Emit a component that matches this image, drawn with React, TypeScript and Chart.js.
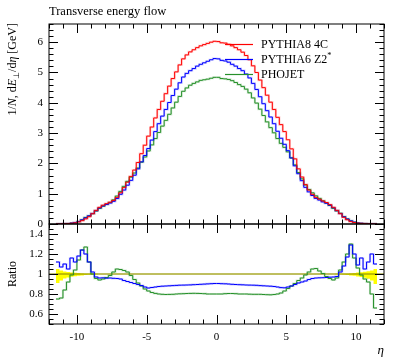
import React, { useEffect, useRef } from "react";
import { Chart, registerables } from "chart.js";

Chart.register(...registerables);

// ---------- data ----------
const BIN_LOW = -11.5;
const BIN_WIDTH = 0.25;
const X_MIN = -12;
const X_MAX = 12;
const MAIN_Y_MAX = 6.6;
const RATIO_MIN = 0.5;
const RATIO_MAX = 1.5;
const REFERENCE_RATIO = 1;

const seriesNames = ["PYTHIA8 4C", "PYTHIA6 Z2", "PHOJET"];
const seriesColors = ["#ff0000", "#0000ff", "#26902a"];
const seriesHalo = ["rgba(255,0,0,0.2)", "rgba(0,0,255,0.2)", "rgba(38,144,42,0.2)"];

const xMajorTicks = [-10, -5, 0, 5, 10];
const xTickLabels = ["-10", "-5", "0", "5", "10"];
const mainYTicks = [0, 1, 2, 3, 4, 5, 6];
const ratioYTicks = [0.6, 0.8, 1, 1.2, 1.4];
const ratioYTickLabels = ["0.6", "0.8", "1", "1.2", "1.4"];

// dE_T/deta per bin (bins of 0.25 from -11.5 to 11.5)
const pythia8 = [
  0.005, 0.007, 0.01, 0.015,
  0.025, 0.04, 0.07, 0.11,
  0.17, 0.24, 0.34, 0.45,
  0.55, 0.62, 0.67, 0.72,
  0.78, 0.88, 1.03, 1.2,
  1.38, 1.57, 1.78, 2.03,
  2.32, 2.6, 2.9, 3.2,
  3.5, 3.78, 4.05, 4.3,
  4.55, 4.8, 5.02, 5.25,
  5.45, 5.58, 5.68, 5.75,
  5.82, 5.88, 5.92, 5.96,
  6.0, 6.03, 6.02, 5.98,
  5.97, 5.93, 5.88, 5.82,
  5.75, 5.67, 5.56, 5.42,
  5.22, 5.0, 4.75, 4.5,
  4.25, 4.02, 3.78, 3.52,
  3.28, 3.05, 2.78, 2.48,
  2.15, 1.82, 1.55, 1.3,
  1.12, 0.98, 0.88, 0.82,
  0.76, 0.71, 0.64, 0.55,
  0.45, 0.34, 0.22, 0.14,
  0.08, 0.05, 0.03, 0.02,
  0.012, 0.008, 0.006, 0.004,
];

const pythia6 = [
  0.006, 0.007, 0.011, 0.016,
  0.029, 0.045, 0.083, 0.136,
  0.204, 0.269, 0.347, 0.437,
  0.528, 0.595, 0.643, 0.691,
  0.749, 0.84, 0.98, 1.12,
  1.28, 1.44, 1.61, 1.82,
  2.05, 2.26, 2.49, 2.77,
  3.05, 3.31, 3.56, 3.78,
  4.01, 4.24, 4.45, 4.66,
  4.85, 4.97, 5.06, 5.13,
  5.21, 5.27, 5.32, 5.37,
  5.42, 5.46, 5.45, 5.4,
  5.38, 5.34, 5.27, 5.21,
  5.13, 5.06, 4.95, 4.82,
  4.64, 4.44, 4.2, 3.97,
  3.74, 3.53, 3.31, 3.06,
  2.83, 2.63, 2.42, 2.18,
  1.92, 1.66, 1.43, 1.21,
  1.06, 0.94, 0.845, 0.79,
  0.73, 0.685, 0.62, 0.535,
  0.44, 0.347, 0.238, 0.164,
  0.103, 0.06, 0.033, 0.023,
  0.013, 0.009, 0.007, 0.004,
];

const phojet = [
  0.004, 0.005, 0.008, 0.014,
  0.025, 0.042, 0.08, 0.136,
  0.216, 0.269, 0.34, 0.43,
  0.517, 0.589, 0.647, 0.709,
  0.796, 0.924, 1.076, 1.242,
  1.408, 1.546, 1.682, 1.847,
  2.04, 2.21, 2.41, 2.61,
  2.82, 3.02, 3.23, 3.42,
  3.62, 3.83, 4.02, 4.21,
  4.38, 4.49, 4.58, 4.64,
  4.69, 4.74, 4.76, 4.78,
  4.81, 4.84, 4.84, 4.8,
  4.79, 4.77, 4.73, 4.67,
  4.6, 4.54, 4.45, 4.33,
  4.16, 3.99, 3.79, 3.58,
  3.37, 3.18, 3.01, 2.82,
  2.66, 2.53, 2.38, 2.18,
  1.95, 1.7, 1.49, 1.29,
  1.14, 1.03, 0.93, 0.845,
  0.764, 0.692, 0.611, 0.517,
  0.432, 0.354, 0.246, 0.168,
  0.104, 0.058, 0.032, 0.02,
  0.011, 0.007, 0.005, 0.003,
];

// ratios to PYTHIA8 4C
const ratioPythia6 = [
  1.12, 1.07, 1.1, 1.05,
  1.16, 1.12, 1.18, 1.24,
  1.2, 1.12, 1.02, 0.97,
  0.96, 0.962, 0.958, 0.96,
  0.957, 0.955, 0.95, 0.935,
  0.925, 0.915, 0.905, 0.895,
  0.885, 0.87, 0.86, 0.865,
  0.87, 0.875, 0.878, 0.88,
  0.882, 0.884, 0.886, 0.888,
  0.889, 0.89, 0.891, 0.893,
  0.895, 0.897, 0.899, 0.901,
  0.903, 0.905, 0.905, 0.903,
  0.902, 0.9, 0.897, 0.895,
  0.893, 0.892, 0.89, 0.889,
  0.888, 0.887, 0.884, 0.882,
  0.88, 0.878, 0.875, 0.87,
  0.864, 0.862, 0.87, 0.88,
  0.895, 0.91, 0.92, 0.93,
  0.945, 0.955, 0.96, 0.962,
  0.963, 0.965, 0.968, 0.97,
  0.975, 1.02, 1.08, 1.17,
  1.29, 1.2, 1.09, 1.16,
  1.05, 1.12, 1.2, 1.1,
];

const ratioPhojet = [
  0.75, 0.76, 0.84, 0.92,
  0.99, 1.04, 1.14, 1.24,
  1.27, 1.12, 1.0, 0.955,
  0.94, 0.95, 0.965, 0.985,
  1.02, 1.05, 1.045, 1.035,
  1.02, 0.985, 0.945, 0.91,
  0.88, 0.85, 0.83, 0.815,
  0.806, 0.8, 0.797, 0.795,
  0.796, 0.797, 0.8, 0.802,
  0.803, 0.805, 0.806, 0.807,
  0.806, 0.805, 0.803, 0.8,
  0.8, 0.8, 0.8, 0.8,
  0.803, 0.805, 0.805, 0.803,
  0.8, 0.8, 0.8, 0.798,
  0.797, 0.797, 0.797, 0.795,
  0.793, 0.792, 0.795, 0.8,
  0.81, 0.83, 0.855, 0.88,
  0.905, 0.935, 0.96, 0.99,
  1.02, 1.05, 1.055, 1.03,
  1.005, 0.975, 0.955, 0.94,
  0.96, 1.04, 1.12, 1.2,
  1.3, 1.16, 1.06, 0.99,
  0.95, 0.92, 0.8, 0.66,
];

// PYTHIA8 4C uncertainty band (ratio units)
const bandUpper = [
  1.05, 1.035, 1.025, 1.02,
  1.016, 1.012, 1.01, 1.008,
  1.006, 1.005, 1.004, 1.004,
  1.003, 1.003, 1.003, 1.003,
  1.002, 1.002, 1.002, 1.002,
  1.002, 1.002, 1.002, 1.002,
  1.002, 1.002, 1.002, 1.002,
  1.002, 1.002, 1.002, 1.002,
  1.002, 1.002, 1.002, 1.002,
  1.002, 1.002, 1.002, 1.002,
  1.002, 1.002, 1.002, 1.002,
  1.002, 1.002, 1.002, 1.002,
  1.002, 1.002, 1.002, 1.002,
  1.002, 1.002, 1.002, 1.002,
  1.002, 1.002, 1.002, 1.002,
  1.002, 1.002, 1.002, 1.002,
  1.002, 1.002, 1.002, 1.002,
  1.002, 1.002, 1.002, 1.002,
  1.002, 1.002, 1.002, 1.002,
  1.003, 1.003, 1.003, 1.003,
  1.004, 1.004, 1.005, 1.006,
  1.008, 1.01, 1.014, 1.018,
  1.022, 1.028, 1.035, 1.05,
];

const bandLower = [
  0.91, 0.935, 0.955, 0.965,
  0.972, 0.978, 0.982, 0.986,
  0.99, 0.992, 0.994, 0.996,
  0.997, 0.997, 0.997, 0.997,
  0.998, 0.998, 0.998, 0.998,
  0.998, 0.998, 0.998, 0.998,
  0.998, 0.998, 0.998, 0.998,
  0.998, 0.998, 0.998, 0.998,
  0.998, 0.998, 0.998, 0.998,
  0.998, 0.998, 0.998, 0.998,
  0.998, 0.998, 0.998, 0.998,
  0.998, 0.998, 0.998, 0.998,
  0.998, 0.998, 0.998, 0.998,
  0.998, 0.998, 0.998, 0.998,
  0.998, 0.998, 0.998, 0.998,
  0.998, 0.998, 0.998, 0.998,
  0.998, 0.998, 0.998, 0.998,
  0.998, 0.998, 0.998, 0.998,
  0.998, 0.998, 0.998, 0.998,
  0.997, 0.997, 0.997, 0.997,
  0.996, 0.995, 0.993, 0.99,
  0.986, 0.982, 0.976, 0.97,
  0.962, 0.952, 0.935, 0.9,
];

// ---------- helpers ----------
const SERIF = '"Liberation Serif", "Times New Roman", serif';

function stepPoints(vals: number[]) {
  const pts = vals.map((v, i) => ({ x: BIN_LOW + i * BIN_WIDTH, y: v }));
  pts.push({ x: BIN_LOW + vals.length * BIN_WIDTH, y: vals[vals.length - 1] });
  return pts;
}

type Part = { t: string; it?: boolean; sub?: boolean; sup?: boolean };

function richWidth(ctx: CanvasRenderingContext2D, parts: Part[], size: number) {
  let w = 0;
  for (const p of parts) {
    const s = p.sub || p.sup ? size * 0.7 : size;
    ctx.font = `${p.it ? "italic " : ""}${s}px ${SERIF}`;
    w += ctx.measureText(p.t).width;
  }
  return w;
}

function drawRich(ctx: CanvasRenderingContext2D, parts: Part[], x: number, y: number, size: number) {
  let cx = x;
  for (const p of parts) {
    const s = p.sub || p.sup ? size * 0.7 : size;
    ctx.font = `${p.it ? "italic " : ""}${s}px ${SERIF}`;
    const dy = p.sub ? size * 0.3 : p.sup ? -size * 0.35 : 0;
    ctx.fillText(p.t, cx, y + dy);
    cx += ctx.measureText(p.t).width;
  }
}

const rivetPlugin = {
  id: "rivet",
  afterDraw(chart: any, _args: any, opts: any) {
    const ctx: CanvasRenderingContext2D = chart.ctx;
    const { left, right, top, bottom } = chart.chartArea;
    const xs = chart.scales.x;
    const ys = chart.scales.y;
    const isMain = opts.panel === "main";
    ctx.save();

    // frame
    ctx.strokeStyle = "#000";
    ctx.lineWidth = 1;
    ctx.strokeRect(left, top, right - left, bottom - top);

    // x ticks (inward, bottom and top)
    const MAJ = 9;
    const MIN = 4.5;
    ctx.beginPath();
    for (let v = Math.ceil(xs.min); v <= xs.max; v += 1) {
      const px = Math.round(xs.getPixelForValue(v)) + 0.5;
      const len = xMajorTicks.includes(v) ? MAJ : MIN;
      ctx.moveTo(px, bottom);
      ctx.lineTo(px, bottom - len);
      ctx.moveTo(px, top);
      ctx.lineTo(px, top + len);
    }
    // y ticks
    const yMajor = isMain ? mainYTicks : ratioYTicks;
    const yStep = isMain ? 0.2 : 0.05;
    const nSteps = Math.round((ys.max - ys.min) / yStep);
    for (let k = 0; k <= nSteps; k++) {
      const v = ys.min + k * yStep;
      const isMaj = yMajor.some((m) => Math.abs(m - v) < 1e-6);
      const py = Math.round(ys.getPixelForValue(v)) + 0.5;
      const len = isMaj ? MAJ : MIN;
      ctx.moveTo(left, py);
      ctx.lineTo(left + len, py);
      ctx.moveTo(right, py);
      ctx.lineTo(right - len, py);
    }
    ctx.stroke();

    // y tick labels
    ctx.fillStyle = "#000";
    ctx.textAlign = "right";
    ctx.textBaseline = "middle";
    ctx.font = `11px ${SERIF}`;
    if (isMain) {
      mainYTicks.forEach((v) => ctx.fillText(String(v), left - 6, ys.getPixelForValue(v)));
    } else {
      ratioYTicks.forEach((v, i) => ctx.fillText(ratioYTickLabels[i], left - 6, ys.getPixelForValue(v)));
    }

    if (isMain) {
      // title
      ctx.textAlign = "left";
      ctx.font = `12.5px ${SERIF}`;
      ctx.fillText("Transverse energy flow", left, 12);

      // y label, rotated, aligned to the top
      const parts: Part[] = [
        { t: "1/" },
        { t: "N", it: true },
        { t: ", d" },
        { t: "E", it: true },
        { t: "⊥", sub: true },
        { t: "/d" },
        { t: "η", it: true },
        { t: " [GeV]" },
      ];
      ctx.save();
      ctx.translate(13, top - 1);
      ctx.rotate(-Math.PI / 2);
      ctx.textAlign = "left";
      ctx.textBaseline = "middle";
      const w = richWidth(ctx, parts, 12);
      drawRich(ctx, parts, -w, 0, 12);
      ctx.restore();

      // legend
      seriesNames.forEach((name, i) => {
        const ly = 44 + i * 15;
        ctx.strokeStyle = seriesColors[i];
        ctx.lineWidth = 1.2;
        ctx.beginPath();
        ctx.moveTo(225, ly + 0.5);
        ctx.lineTo(253, ly + 0.5);
        ctx.stroke();
        ctx.fillStyle = "#000";
        ctx.textAlign = "left";
        ctx.textBaseline = "middle";
        const p: Part[] = i === 1 ? [{ t: name }, { t: "*", sup: true }] : [{ t: name }];
        drawRich(ctx, p, 261, ly + 1, 12);
      });
    } else {
      // x tick labels
      ctx.textAlign = "center";
      ctx.textBaseline = "middle";
      ctx.font = `11px ${SERIF}`;
      xMajorTicks.forEach((v, i) => ctx.fillText(xTickLabels[i], xs.getPixelForValue(v), bottom + 13));
      // x label
      ctx.textAlign = "right";
      ctx.font = `italic 13px ${SERIF}`;
      ctx.fillText("η", right, bottom + 27);
      // y label
      ctx.save();
      ctx.translate(13, (top + bottom) / 2);
      ctx.rotate(-Math.PI / 2);
      ctx.textAlign = "center";
      ctx.font = `12px ${SERIF}`;
      ctx.fillText("Ratio", 0, 0);
      ctx.restore();
    }
    ctx.restore();
  },
};

function lineDs(vals: number[], color: string, order = 0, width = 1) {
  return {
    data: stepPoints(vals),
    borderColor: color,
    borderWidth: width,
    stepped: "before" as const,
    fill: false,
    pointRadius: 0,
    order,
  };
}

export default function App() {
  const mainRef = useRef<HTMLCanvasElement>(null);
  const ratioRef = useRef<HTMLCanvasElement>(null);

  useEffect(() => {
    const common = {
      animation: false as const,
      responsive: false,
      elements: { point: { radius: 0 }, line: { tension: 0 } },
    };
    const main = new Chart(mainRef.current!, {
      type: "line",
      data: {
        datasets: [
          lineDs(phojet, seriesColors[2], 2),
          lineDs(pythia6, seriesColors[1], 1),
          lineDs(pythia8, seriesColors[0], 0),
          lineDs(phojet, seriesHalo[2], 5, 2.2),
          lineDs(pythia6, seriesHalo[1], 4, 2.2),
          lineDs(pythia8, seriesHalo[0], 3, 2.2),
        ],
      },
      options: {
        ...common,
        layout: { padding: { left: 49, right: 13, top: 24, bottom: 6 } },
        scales: {
          x: { type: "linear", min: X_MIN, max: X_MAX, display: false },
          y: { type: "linear", min: 0, max: MAIN_Y_MAX, display: false },
        },
        plugins: {
          legend: { display: false },
          tooltip: { enabled: false },
          rivet: { panel: "main" },
        } as any,
      },
      plugins: [rivetPlugin],
    } as any);

    const ratio = new Chart(ratioRef.current!, {
      type: "line",
      data: {
        datasets: [
          lineDs(ratioPhojet, seriesColors[2], 1),
          lineDs(ratioPythia6, seriesColors[1], 0),
          {
            data: [
              { x: X_MIN, y: REFERENCE_RATIO },
              { x: X_MAX, y: REFERENCE_RATIO },
            ],
            borderColor: "#7f7f00",
            borderWidth: 1,
            pointRadius: 0,
            fill: false,
            order: 2,
          },
          {
            data: stepPoints(bandLower),
            borderWidth: 0,
            borderColor: "rgba(0,0,0,0)",
            stepped: "before",
            pointRadius: 0,
            fill: false,
            order: 3,
          },
          {
            data: stepPoints(bandUpper),
            borderWidth: 0,
            borderColor: "rgba(0,0,0,0)",
            backgroundColor: "#ffff00",
            stepped: "before",
            pointRadius: 0,
            fill: "-1",
            order: 3,
          },
          lineDs(ratioPhojet, seriesHalo[2], 2.5, 2.2),
          lineDs(ratioPythia6, seriesHalo[1], 2.4, 2.2),
        ],
      },
      options: {
        ...common,
        layout: { padding: { left: 49, right: 13, top: 6, bottom: 34 } },
        scales: {
          x: { type: "linear", min: X_MIN, max: X_MAX, display: false },
          y: { type: "linear", min: RATIO_MIN, max: RATIO_MAX, display: false },
        },
        plugins: {
          legend: { display: false },
          tooltip: { enabled: false },
          filler: { propagate: false },
          rivet: { panel: "ratio" },
        } as any,
      },
      plugins: [rivetPlugin],
    } as any);

    return () => {
      main.destroy();
      ratio.destroy();
    };
  }, []);

  return (
    <div style={{ position: "fixed", left: 0, top: 0, width: 397, height: 358, background: "#fff" }}>
      <canvas
        ref={mainRef}
        width={397}
        height={230}
        style={{ position: "absolute", left: 0, top: 0, width: 397, height: 230 }}
      />
      <canvas
        ref={ratioRef}
        width={397}
        height={140}
        style={{ position: "absolute", left: 0, top: 218, width: 397, height: 140 }}
      />
    </div>
  );
}
